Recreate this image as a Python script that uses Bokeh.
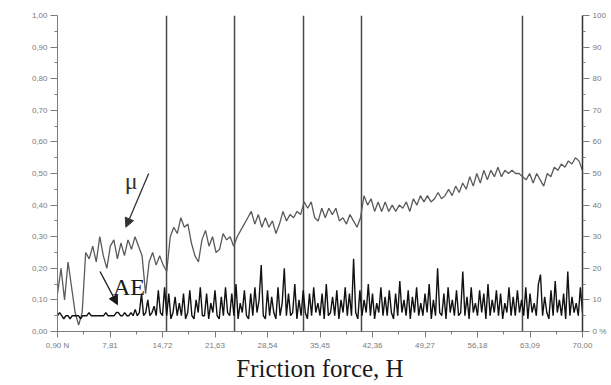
import numpy as np
from bokeh.plotting import figure
from bokeh.models import (Range1d, LinearAxis, FixedTicker, Label, Arrow,
                          NormalHead)
from bokeh.embed import file_html
from bokeh.resources import INLINE

# ---------------- data ----------------
x_ticks = [0.90, 7.81, 14.72, 21.63, 28.54, 35.45, 42.36, 49.27, 56.18, 63.09, 70.00]
x_tick_labels = ["0,90 N", "7,81", "14,72", "21,63", "28,54", "35,45",
                 "42,36", "49,27", "56,18", "63,09", "70,00"]
mu_ticks = [0.0, 0.1, 0.2, 0.3, 0.4, 0.5, 0.6, 0.7, 0.8, 0.9, 1.0]
mu_tick_labels = ["0,00", "0,10", "0,20", "0,30", "0,40", "0,50",
                  "0,60", "0,70", "0,80", "0,90", "1,00"]
ae_ticks = [0, 10, 20, 30, 40, 50, 60, 70, 80, 90, 100]
ae_tick_labels = ["0 %", "10", "20", "30", "40", "50", "60", "70", "80", "90", "100"]

# vertical marker lines (friction force values)
marker_x = [15.25, 24.2, 33.28, 40.91, 62.1]

# friction coefficient mu (left axis), 150 samples from 0.90 to 70.00
mu_values = [
    0.12, 0.20, 0.10, 0.22, 0.14, 0.06, 0.02, 0.06, 0.25, 0.23,
    0.27, 0.22, 0.30, 0.24, 0.20, 0.27, 0.29, 0.23, 0.28, 0.24,
    0.29, 0.26, 0.30, 0.27, 0.24, 0.12, 0.22, 0.25, 0.21, 0.24,
    0.21, 0.19, 0.30, 0.33, 0.31, 0.36, 0.33, 0.34, 0.28, 0.24,
    0.22, 0.29, 0.32, 0.27, 0.30, 0.25, 0.26, 0.31, 0.29, 0.30,
    0.27, 0.30, 0.32, 0.34, 0.36, 0.38, 0.34, 0.37, 0.33, 0.36,
    0.33, 0.35, 0.31, 0.34, 0.38, 0.35, 0.37, 0.36, 0.38, 0.37,
    0.41, 0.39, 0.41, 0.36, 0.35, 0.39, 0.36, 0.39, 0.37, 0.39,
    0.35, 0.36, 0.34, 0.37, 0.35, 0.33, 0.36, 0.43, 0.40, 0.42,
    0.38, 0.41, 0.38, 0.41, 0.38, 0.40, 0.38, 0.40, 0.39, 0.41,
    0.38, 0.42, 0.40, 0.43, 0.41, 0.43, 0.41, 0.42, 0.44, 0.42,
    0.43, 0.45, 0.43, 0.46, 0.44, 0.47, 0.45, 0.49, 0.46, 0.50,
    0.47, 0.51, 0.48, 0.51, 0.49, 0.52, 0.49, 0.51, 0.50, 0.51,
    0.50, 0.50, 0.49, 0.48, 0.50, 0.47, 0.50, 0.48, 0.46, 0.50,
    0.49, 0.52, 0.51, 0.53, 0.52, 0.54, 0.53, 0.55, 0.54, 0.51,
]

# acoustic emission AE, % (right axis), 251 samples from 0.90 to 70.00
ae_values = [
    5, 6, 5, 4, 5, 5, 4, 5, 5, 5,
    5, 4, 5, 5, 5, 6, 5, 5, 5, 5,
    5, 5, 5, 6, 5, 5, 5, 5, 6, 6,
    5, 5, 6, 5, 5, 6, 5, 7, 5, 6,
    12, 5, 6, 10, 5, 6, 8, 5, 13, 6,
    5, 14, 5, 12, 4, 6, 11, 5, 9, 5,
    12, 4, 6, 13, 5, 4, 10, 6, 14, 5,
    5, 12, 4, 9, 6, 13, 5, 4, 11, 5,
    14, 6, 5, 12, 5, 15, 4, 9, 6, 13,
    5, 4, 12, 5, 14, 6, 10, 21, 5, 4,
    13, 5, 11, 6, 4, 14, 5, 9, 20, 5,
    12, 5, 6, 15, 4, 10, 5, 13, 6, 4,
    12, 5, 14, 6, 9, 5, 12, 4, 15, 5,
    6, 11, 5, 13, 4, 10, 6, 14, 5, 12,
    5, 23, 6, 4, 13, 5, 10, 6, 15, 5,
    12, 4, 9, 6, 14, 5, 11, 5, 13, 6,
    4, 12, 5, 16, 6, 10, 5, 13, 4, 11,
    6, 14, 5, 9, 5, 12, 6, 15, 4, 10,
    5, 20, 6, 5, 12, 4, 14, 6, 10, 5,
    13, 5, 6, 19, 5, 11, 4, 14, 6, 9,
    5, 13, 6, 12, 4, 15, 5, 10, 6, 13,
    5, 12, 4, 9, 6, 14, 5, 11, 5, 13,
    6, 10, 5, 14, 4, 12, 6, 9, 5, 15,
    18, 5, 11, 6, 4, 13, 5, 16, 6, 10,
    5, 12, 4, 19, 5, 11, 6, 9, 5, 14,
    6,
]

mu_x = np.linspace(x_ticks[0], x_ticks[-1], len(mu_values))
ae_x = np.linspace(x_ticks[0], x_ticks[-1], len(ae_values))

# ---------------- figure ----------------
TICK_FONT = "Liberation Sans"
GRAY = "#7a7a7a"

p = figure(width=611, height=385, output_backend="svg", toolbar_location=None,
           x_range=Range1d(x_ticks[0], x_ticks[-1]), y_range=Range1d(0, 1),
           min_border_left=57, min_border_right=29, min_border_top=15,
           min_border_bottom=54)
p.outline_line_color = None
p.background_fill_color = "white"
p.border_fill_color = "white"
p.xgrid.visible = False
p.ygrid.visible = False
p.extra_y_ranges = {"ae": Range1d(0, 100)}

def mids(t):
    return [(a + b) / 2 for a, b in zip(t[:-1], t[1:])]

def style_axis(ax, ticks, labels, standoff=3):
    ax.ticker = FixedTicker(ticks=ticks, minor_ticks=mids(ticks))
    ax.major_label_overrides = {t: l for t, l in zip(ticks, labels)}
    ax.axis_line_color = GRAY
    ax.major_tick_line_color = GRAY
    ax.minor_tick_line_color = GRAY
    ax.major_tick_in = 0
    ax.major_tick_out = 7
    ax.minor_tick_in = 0
    ax.minor_tick_out = 3
    ax.major_label_text_font = TICK_FONT
    ax.major_label_text_font_size = "8px"
    ax.major_label_text_color = GRAY
    ax.major_label_standoff = standoff

# bottom axis
xa = p.xaxis[0]
style_axis(xa, x_ticks, x_tick_labels, standoff=3)
xa.major_tick_out = 6
xa.axis_label = "Friction force, H"
xa.axis_label_text_font = "Liberation Serif"
xa.axis_label_text_font_size = "25px"
xa.axis_label_text_font_style = "normal"
xa.axis_label_text_color = "#1a1a1a"
xa.axis_label_standoff = 2

# left axis
ya = p.yaxis[0]
style_axis(ya, mu_ticks, mu_tick_labels)

# right axis
ra = LinearAxis(y_range_name="ae")
style_axis(ra, ae_ticks, ae_tick_labels)
ra.axis_line_color = "#333333"
ra.axis_line_width = 1.5
p.add_layout(ra, "right")

# vertical marker lines
for mx in marker_x:
    p.line([mx, mx], [0, 1], line_color="#4a4a4a", line_width=1.5)

# curves
p.line(mu_x, mu_values, line_color="#5a5a5a", line_width=1.3)
p.line(ae_x, ae_values, y_range_name="ae", line_color="#111111", line_width=1.4)

# annotations
p.add_layout(Label(x=10.6, y=0.476, text="μ", text_font="Liberation Serif",
                   text_font_size="24px", text_color="#333333",
                   text_align="center", text_baseline="alphabetic"))
p.add_layout(Arrow(x_start=12.9, y_start=0.50, x_end=9.9, y_end=0.33,
                   line_color="#333333", line_width=1.3,
                   end=NormalHead(size=9, fill_color="#333333", line_color="#333333")))
p.add_layout(Label(x=8.2, y=0.14, text="AE", text_font="Liberation Serif",
                   text_font_size="24px", text_color="#1a1a1a",
                   text_align="left", text_baseline="alphabetic"))
p.add_layout(Arrow(x_start=6.5, y_start=0.19, x_end=8.8, y_end=0.085,
                   line_color="#1a1a1a", line_width=1.3,
                   end=NormalHead(size=9, fill_color="#1a1a1a", line_color="#1a1a1a")))

open("out.html", "w").write(file_html(p, INLINE))
